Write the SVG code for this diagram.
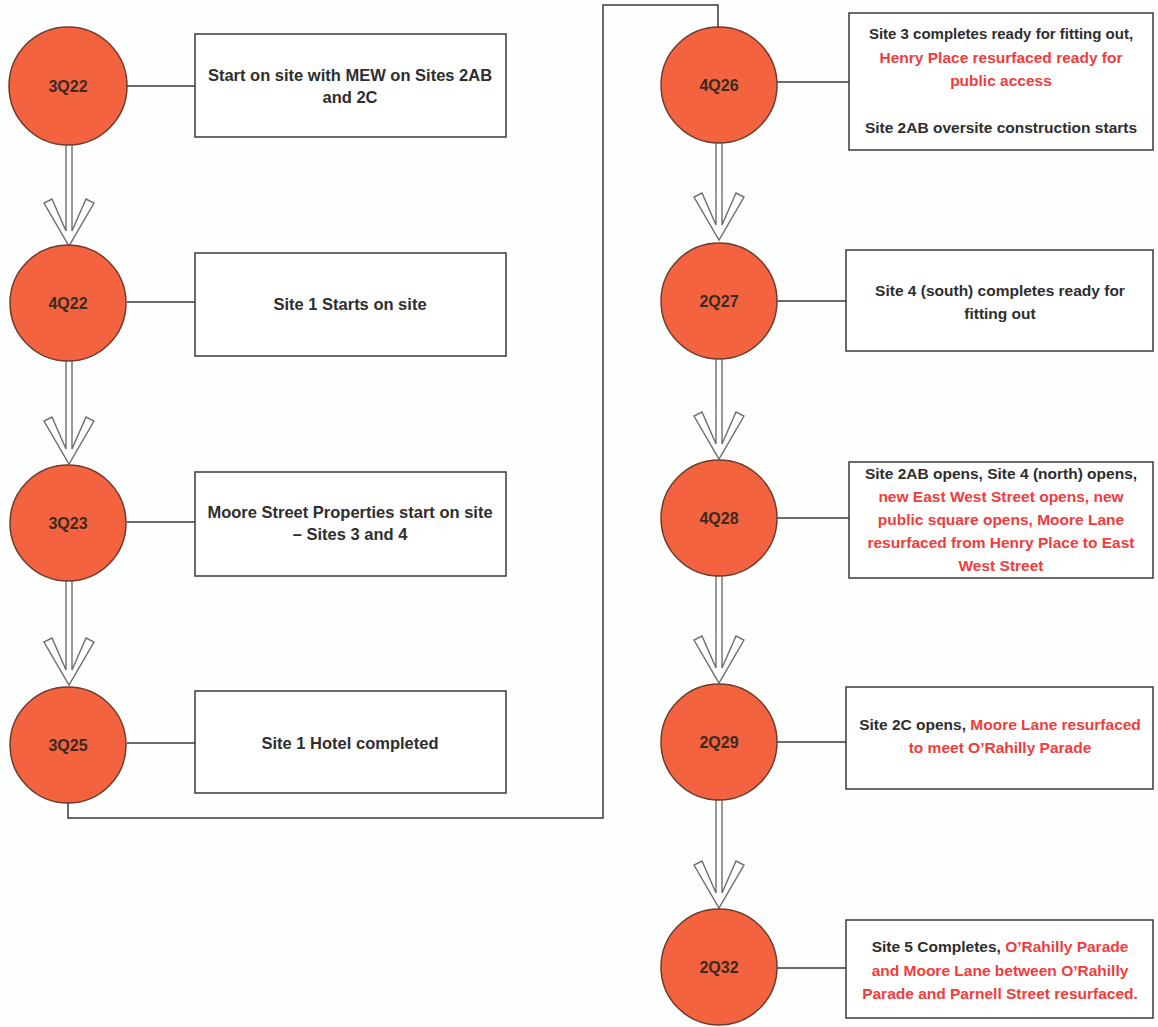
<svg xmlns="http://www.w3.org/2000/svg" width="1158" height="1027" viewBox="0 0 1158 1027">
<style>
.bg{fill:#fdfefe}
.circ{fill:#f4633f;stroke:#6e3b2c;stroke-width:1.5}
.box{fill:#ffffff;stroke:#3a3a3a;stroke-width:1.5}
.lbl{font-family:"Liberation Sans",Arial,sans-serif;font-weight:bold;font-size:16px;fill:#3a2a22;text-anchor:middle}
.txt{font-family:"Liberation Sans",Arial,sans-serif;font-weight:bold;font-size:16.5px;fill:#2e2e2e;text-anchor:middle}
.rt{font-size:15.5px}
.red{fill:#f23c3c}
.link{fill:none;stroke:#3a3a3a;stroke-width:1.5}
.arrow{fill:#ffffff;stroke:#6e6e6e;stroke-width:1.4;stroke-linejoin:miter}
</style>
<rect class="bg" x="0" y="0" width="1158" height="1027"/>
<g id="connectors">
  <path class="link" d="M68 803 V818 H603 V5 H718 V27"/>
  <line class="link" x1="127" y1="86" x2="195" y2="86"/>
  <line class="link" x1="127" y1="302" x2="195" y2="302"/>
  <line class="link" x1="127" y1="522" x2="195" y2="522"/>
  <line class="link" x1="127" y1="743" x2="195" y2="743"/>
  <line class="link" x1="777" y1="82" x2="849" y2="82"/>
  <line class="link" x1="777" y1="301" x2="846" y2="301"/>
  <line class="link" x1="777" y1="518" x2="849" y2="518"/>
  <line class="link" x1="777" y1="742" x2="846" y2="742"/>
  <line class="link" x1="777" y1="968" x2="846" y2="968"/>
  <path class="arrow" d="M66 140 V231 L52 199 L44 203 L69 246 L94 203 L86 199 L72 231 V140 Z"/>
  <path class="arrow" d="M66 355 V449 L52 417 L44 421 L69 464 L94 421 L86 417 L72 449 V355 Z"/>
  <path class="arrow" d="M66 575 V670 L52 638 L44 642 L69 685 L94 642 L86 638 L72 670 V575 Z"/>
  <path class="arrow" d="M716 138 V225 L702 193 L694 197 L719 240 L744 197 L736 193 L722 225 V138 Z"/>
  <path class="arrow" d="M716 355 V444 L702 412 L694 416 L719 459 L744 416 L736 412 L722 444 V355 Z"/>
  <path class="arrow" d="M716 572 V668 L702 636 L694 640 L719 683 L744 640 L736 636 L722 668 V572 Z"/>
  <path class="arrow" d="M716 795 V893 L702 861 L694 865 L719 908 L744 865 L736 861 L722 893 V795 Z"/>
</g>
<g id="n3Q22">
  <circle class="circ" cx="68" cy="86" r="59"/>
  <text class="lbl" x="68" y="92">3Q22</text>
</g>
<g id="b3Q22">
  <rect class="box" x="195" y="34" width="311" height="103"/>
  <text class="txt" x="350" y="81">Start on site with MEW on Sites 2AB</text>
  <text class="txt" x="350" y="103">and 2C</text>
</g>
<g id="n4Q22">
  <circle class="circ" cx="68" cy="303" r="58"/>
  <text class="lbl" x="68" y="309">4Q22</text>
</g>
<g id="b4Q22">
  <rect class="box" x="195" y="253" width="311" height="103"/>
  <text class="txt" x="350" y="310">Site 1 Starts on site</text>
</g>
<g id="n3Q23">
  <circle class="circ" cx="68" cy="523" r="58"/>
  <text class="lbl" x="68" y="529">3Q23</text>
</g>
<g id="b3Q23">
  <rect class="box" x="195" y="472" width="311" height="104"/>
  <text class="txt" x="350" y="518">Moore Street Properties start on site</text>
  <text class="txt" x="350" y="540">– Sites 3 and 4</text>
</g>
<g id="n3Q25">
  <circle class="circ" cx="68" cy="745" r="58"/>
  <text class="lbl" x="68" y="751">3Q25</text>
</g>
<g id="b3Q25">
  <rect class="box" x="195" y="691" width="311" height="102"/>
  <text class="txt" x="350" y="749">Site 1 Hotel completed</text>
</g>
<g id="n4Q26">
  <circle class="circ" cx="719" cy="85" r="58"/>
  <text class="lbl" x="719" y="91">4Q26</text>
</g>
<g id="b4Q26">
  <rect class="box" x="849" y="13" width="304" height="137"/>
  <text class="txt rt" x="1001" y="39" style="font-size:15px">Site 3 completes ready for fitting out,</text>
  <text class="txt rt red" x="1001" y="63">Henry Place resurfaced ready for</text>
  <text class="txt rt red" x="1001" y="86">public access</text>
  <text class="txt rt" x="1001" y="133">Site 2AB oversite construction starts</text>
</g>
<g id="n2Q27">
  <circle class="circ" cx="719" cy="301" r="58"/>
  <text class="lbl" x="719" y="307">2Q27</text>
</g>
<g id="b2Q27">
  <rect class="box" x="846" y="250" width="307" height="101"/>
  <text class="txt rt" x="1000" y="296">Site 4 (south) completes ready for</text>
  <text class="txt rt" x="1000" y="319">fitting out</text>
</g>
<g id="n4Q28">
  <circle class="circ" cx="719" cy="518" r="58"/>
  <text class="lbl" x="719" y="524">4Q28</text>
</g>
<g id="b4Q28">
  <rect class="box" x="849" y="462" width="304" height="116"/>
  <text class="txt rt" x="1001" y="479">Site 2AB opens, Site 4 (north) opens,</text>
  <text class="txt rt red" x="1001" y="502">new East West Street opens, new</text>
  <text class="txt rt red" x="1001" y="525">public square opens, Moore Lane</text>
  <text class="txt rt red" x="1001" y="548">resurfaced from Henry Place to East</text>
  <text class="txt rt red" x="1001" y="571">West Street</text>
</g>
<g id="n2Q29">
  <circle class="circ" cx="719" cy="742" r="58"/>
  <text class="lbl" x="719" y="748">2Q29</text>
</g>
<g id="b2Q29">
  <rect class="box" x="846" y="687" width="307" height="102"/>
  <text class="txt rt" x="1000" y="730">Site 2C opens, <tspan class="red">Moore Lane resurfaced</tspan></text>
  <text class="txt rt red" x="1000" y="753">to meet O’Rahilly Parade</text>
</g>
<g id="n2Q32">
  <circle class="circ" cx="719" cy="967" r="58"/>
  <text class="lbl" x="719" y="973">2Q32</text>
</g>
<g id="b2Q32">
  <rect class="box" x="846" y="920" width="307" height="98"/>
  <text class="txt rt" x="1000" y="952">Site 5 Completes, <tspan class="red">O’Rahilly Parade</tspan></text>
  <text class="txt rt red" x="1000" y="976">and Moore Lane between O’Rahilly</text>
  <text class="txt rt red" x="1000" y="999">Parade and Parnell Street resurfaced.</text>
</g>
</svg>
